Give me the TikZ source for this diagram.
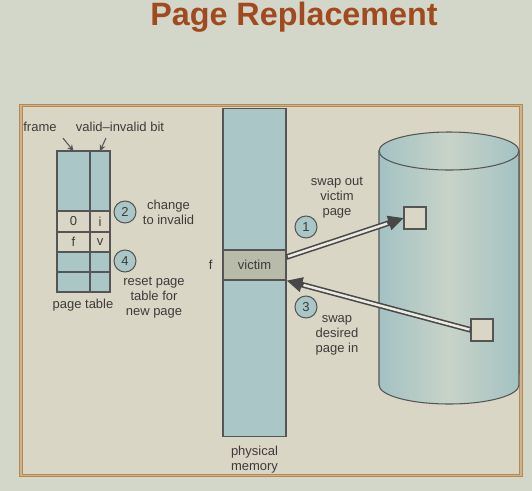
\documentclass[tikz,border=0pt]{standalone}
\usepackage{fontspec}
\setmainfont{Liberation Sans}
\usetikzlibrary{positioning,arrows.meta}
\definecolor{bgcol}{HTML}{D2D7CA}
\definecolor{panelcol}{HTML}{DAD6C5}
\definecolor{framecol}{HTML}{B8884F}
\definecolor{bluecol}{HTML}{AAC6C6}
\definecolor{victimcol}{HTML}{B8BAAA}
\definecolor{linecol}{HTML}{555555}
\definecolor{txtcol}{HTML}{3C3C3C}
\definecolor{titlecol}{HTML}{A14A1F}
\definecolor{disklight}{HTML}{C8D3C8}
\definecolor{diskedge}{HTML}{A3C2C3}

\begin{document}
\begin{tikzpicture}[x=0.02cm, y=-0.02cm, >=stealth, line width=0.6pt, every node/.style={font=\fontsize{7.4}{8.6}\selectfont, text=txtcol}]
\tikzstyle{cell}=[draw=linecol, fill=bluecol, inner sep=0pt, outer sep=0pt, minimum height=0.4cm]
\tikzstyle{stepnum}=[draw=linecol, fill=bluecol, circle, inner sep=0pt, minimum size=0.44cm]
\tikzstyle{diskblock}=[draw=linecol, fill=panelcol, inner sep=0pt, outer sep=0pt, minimum size=0.44cm]
\tikzstyle{swapouter}=[draw=linecol!85!black, line width=3.2pt, -{Triangle[length=9pt,width=8pt]}]
\tikzstyle{swapinner}=[draw=panelcol!50!white, line width=1.4pt, shorten >=10pt, shorten <=0.9pt]
\useasboundingbox (0,0) rectangle (532,491);
% background and frame
\fill[bgcol] (0,0) rectangle (532,491);
\draw[framecol, double=framecol!45!panelcol, double distance=1pt, fill=panelcol] (21,105.5) rectangle (521,475.5);
\node[font=\fontsize{18.4}{20}\selectfont\bfseries, text=titlecol] (title) at (294,17) {Page Replacement};
% page table
\node[cell, minimum width=0.66cm, minimum height=1.2cm] (ftop) at (73.5,181) {};
\node[cell, minimum width=0.4cm, minimum height=1.2cm] (vtop) at (100,181) {};
\node[cell, fill=panelcol, minimum width=0.66cm, minimum height=0.42cm] (fzero) at (73.5,221.5) {0};
\node[cell, fill=panelcol, minimum width=0.4cm, minimum height=0.42cm] (vzero) at (100,221.5) {i};
\node[cell, fill=panelcol, minimum width=0.66cm] (ff) at (73.5,242) {f};
\node[cell, fill=panelcol, minimum width=0.4cm] (vv) at (100,242) {v};
\node[cell, minimum width=0.66cm] (fthree) at (73.5,262) {};
\node[cell, minimum width=0.4cm] (vthree) at (100,262) {};
\node[cell, minimum width=0.66cm] (ffour) at (73.5,282) {};
\node[cell, minimum width=0.4cm] (vfour) at (100,282) {};
\node (ptlabel) at (83,305) {page table};
\node (framelbl) at (40,127) {frame};
\node (validlbl) at (120,127) {valid--invalid bit};
\draw[->, linecol] (framelbl.south east) -- (ftop.north);
\draw[->, linecol] ([xshift=-8pt]validlbl.south) -- (vtop.north);
\node[stepnum] (two) at (125,212) {2};
\node[align=center, right=0pt of two] (changelbl) {change\\to invalid};
\node[stepnum] (four) at (125,261) {4};
\node[align=center] (resetlbl) at (154,298) {reset page\\table for\\new page};
% physical memory
\node[draw=linecol, fill=bluecol, minimum width=1.26cm, minimum height=6.58cm, inner sep=0pt] (mem) at (254.5,272.5) {};
\node[draw=linecol, fill=victimcol, minimum width=1.26cm, minimum height=0.6cm, inner sep=0pt] (victim) at (254.5,265) {victim};
\node[left=2pt of victim] (flbl) {f};
\node[align=center, below=1pt of mem] (memlbl) {physical\\memory};
% backing store
\path[draw=linecol, left color=diskedge, right color=diskedge, middle color=disklight]
  (379,151) -- (379,385) arc[start angle=180, end angle=360, x radius=1.4cm, y radius=0.38cm]
  -- (519,151) arc[start angle=0, end angle=180, x radius=1.4cm, y radius=0.38cm] -- cycle;
\draw[linecol] (379,151) arc[start angle=180, end angle=360, x radius=1.4cm, y radius=0.38cm];
\node[diskblock] (outblock) at (415,218) {};
\node[diskblock] (inblock) at (482,330) {};
% swapping
\draw[swapouter] ([yshift=4.5pt]victim.east) -- (outblock.west);
\draw[swapinner] ([yshift=4.5pt]victim.east) -- (outblock.west);
\draw[swapouter] (inblock.west) -- (victim.south east);
\draw[swapinner] (inblock.west) -- (victim.south east);
\node[stepnum] (one) at (306,227) {1};
\node[align=center] (outlbl) at (337,198) {swap out\\victim\\page};
\node[stepnum] (three) at (306,307) {3};
\node[align=center] (inlbl) at (337,335) {swap\\desired\\page in};
\end{tikzpicture}
\end{document}
